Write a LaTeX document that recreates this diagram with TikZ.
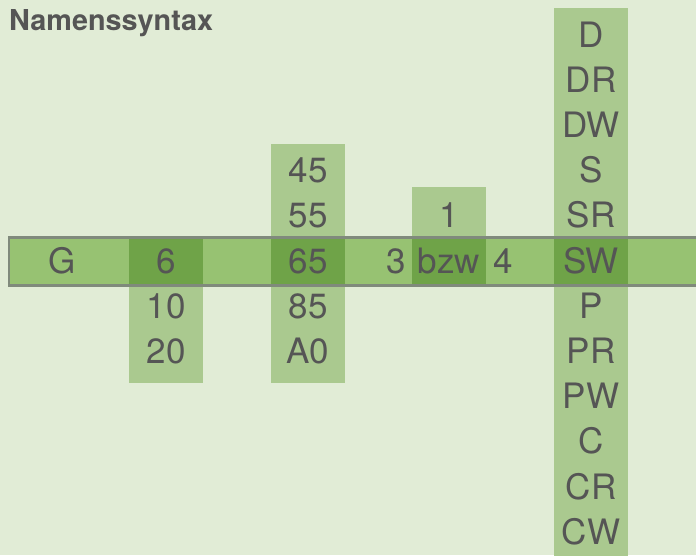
\documentclass[tikz,border=0pt]{standalone}
\usepackage{fontspec}
\setmainfont{TeX Gyre Heros}
\definecolor{bgc}{HTML}{E1ECD6}
\definecolor{barc}{HTML}{97C272}
\definecolor{colc}{HTML}{AAC98F}
\definecolor{ovc}{HTML}{6FA348}
\definecolor{edgec}{HTML}{808A7C}
\definecolor{txtc}{HTML}{555555}
\tikzset{
  item/.style={anchor=base, inner sep=0pt, text=txtc, font=\fontsize{35}{40}\selectfont},
  titlec/.style={anchor=base west, inner sep=0pt, text=txtc, font=\fontsize{28.8}{32}\selectfont\bfseries},
}
\begin{document}
\begin{tikzpicture}[x=1pt,y=-1pt]
\useasboundingbox (0,0) rectangle (696,555);
\clip (0,0) rectangle (696,555);
\fill[bgc] (0,0) rectangle (696,555);
% horizontal bar
\fill[barc] (9.2,237.3) rectangle (720,285.5);
% columns
\fill[colc] (129,237) rectangle (203,383);
\fill[colc] (271,144) rectangle (345,383);
\fill[colc] (412,187) rectangle (486,285);
\fill[colc] (554,8) rectangle (628,560);
% overlaps
\fill[ovc] (129,237.3) rectangle (203,285.5);
\fill[ovc] (271,237.3) rectangle (345,285.5);
\fill[ovc] (412,237.3) rectangle (486,285.5);
\fill[ovc] (554,237.3) rectangle (628,285.5);
% bar border
\draw[edgec, line width=2.4pt] (720,237.3) -- (9.2,237.3) -- (9.2,285.5) -- (720,285.5);
% title
\node[titlec] (title) at (9,30) {Namenssyntax};
% bar row (baseline 273)
\node[item] (g) at (62,273) {G};
\node[item] (c1a) at (166,273) {6};
\node[item] (c1b) at (166,318.2) {10};
\node[item] (c1c) at (166,363.4) {20};
\node[item] (c2a) at (308,182.6) {45};
\node[item] (c2b) at (308,227.8) {55};
\node[item] (c2c) at (308,273) {65};
\node[item] (c2d) at (308,318.2) {85};
\node[item] (c2e) at (308,363.4) {A0};
\node[item] (three) at (396,273) {3};
\node[item] (c3a) at (449,227.8) {1};
\node[item] (c3b) at (449,273) {bzw};
\node[item] (four) at (503,273) {4};
\foreach \t [count=\i] in {D,DR,DW,S,SR,SW,P,PR,PW,C,CR,CW}{
  \node[item] (c4-\i) at (591,{273+(\i-6)*45.2}) {\t};
}
\end{tikzpicture}
\end{document}
